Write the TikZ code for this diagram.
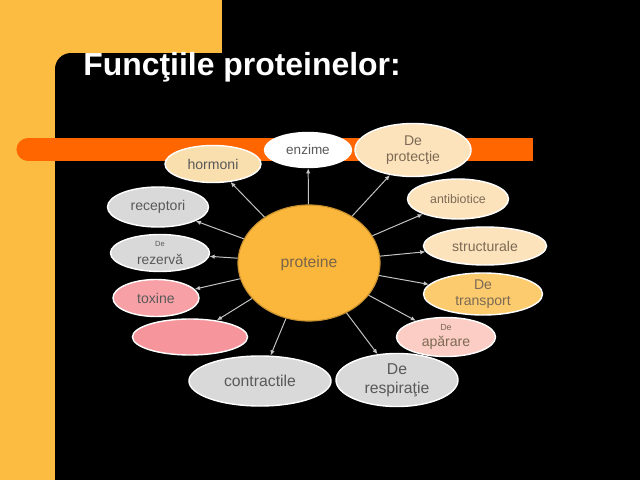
\documentclass[tikz,border=0pt]{standalone}
\usepackage{fontspec}
\setmainfont{Liberation Sans}
\usetikzlibrary{arrows.meta, shapes.geometric}
\definecolor{slideyellow}{HTML}{FCBC42}
\definecolor{barorange}{HTML}{FF6600}
\definecolor{coreorange}{HTML}{FBB73C}
\definecolor{coreedge}{HTML}{C8902E}
\definecolor{corebrown}{HTML}{7A6548}
\definecolor{peach}{HTML}{FCE3BC}
\definecolor{hormpeach}{HTML}{FADFAE}
\definecolor{apricot}{HTML}{FBCB6E}
\definecolor{blush}{HTML}{FBCDC4}
\definecolor{rose}{HTML}{F7A1A7}
\definecolor{rosedeep}{HTML}{F6959C}
\definecolor{silvergray}{HTML}{D9D9D9}
\definecolor{labelgray}{HTML}{595959}
\definecolor{labelbrown}{HTML}{7D6A55}
\definecolor{linkgray}{HTML}{C4C4C4}

\begin{document}
\begin{tikzpicture}[
    x=0.025cm, y=-0.025cm,
    func/.style={ellipse, draw=white, line width=1pt, inner sep=0pt, align=center, text=labelgray, font=\fontsize{10}{12}\selectfont},
    link/.style={draw=linkgray, line width=0.7pt, -{Latex[length=1.3mm,width=1.1mm]}},
]
\useasboundingbox (0,0) rectangle (640,480);

% Slide background
\fill[black] (0,0) rectangle (640,480);
\fill[slideyellow] (0,0) rectangle (222,480);
\fill[black, rounded corners=0.4cm] (55,53) rectangle (700,540);
\fill[black] (222,0) rectangle (640,53);

% Orange bar
\fill[barorange] (28,138) rectangle (533,161);
\fill[barorange] (28,149.5) ellipse[x radius=0.2875cm, y radius=0.2875cm];

% Title
\node[anchor=base west, text=white, font=\fontsize{22.7}{26}\selectfont\bfseries, inner sep=0pt] (title) at (83,75) {Funcţiile proteinelor:};

% Centre
\node[ellipse, fill=coreorange, draw=coreedge, line width=0.8pt, minimum width=3.55cm, minimum height=2.9cm, text=corebrown, font=\fontsize{11.2}{13}\selectfont] (prot) at (309,263) {proteine};

% Functions - top and right
\node[func, fill=white, minimum width=2.175cm, minimum height=0.875cm, font=\fontsize{9.6}{11}\selectfont] (enz) at (308,150) {enzime};
\node[func, fill=hormpeach, minimum width=2.4cm, minimum height=0.925cm] (horm) at (213,164) {hormoni};
\node[func, fill=peach, text=labelbrown, minimum width=2.9cm, minimum height=1.325cm, font=\fontsize{10}{11.7}\selectfont] (protec) at (413,150) {De\\protecţie};
\node[func, fill=peach, text=labelbrown, minimum width=2.525cm, minimum height=1.0cm, font=\fontsize{8.8}{10}\selectfont] (antib) at (458,199) {antibiotice};
\node[func, fill=peach, text=labelbrown, minimum width=3.075cm, minimum height=0.95cm] (struct) at (485,246) {structurale};
\node[func, fill=apricot, text=labelbrown, minimum width=2.975cm, minimum height=1.05cm, font=\fontsize{10}{11}\selectfont] (transp) at (483,294) {De\\transport};
\node[func, fill=blush, text=labelbrown, minimum width=2.475cm, minimum height=0.975cm, font=\fontsize{10}{11.3}\selectfont] (apar) at (446,337) {{\fontsize{6.3}{7}\selectfont De}\\apărare};

% Functions - bottom and left
\node[func, fill=silvergray, minimum width=3.05cm, minimum height=1.325cm, font=\fontsize{11.2}{13.5}\selectfont] (resp) at (397,380) {De\\respiraţie};
\node[func, fill=silvergray, minimum width=3.55cm, minimum height=1.25cm, font=\fontsize{11.2}{13}\selectfont] (contr) at (260,381) {contractile};
\node[func, fill=rosedeep, minimum width=2.875cm, minimum height=0.9cm] (blank) at (190,337) {};
\node[func, fill=rose, minimum width=2.15cm, minimum height=0.925cm] (tox) at (156,298) {toxine};
\node[func, fill=silvergray, minimum width=2.475cm, minimum height=0.925cm, font=\fontsize{9.8}{12.8}\selectfont] (rez) at (160,253) {{\fontsize{5.3}{6}\selectfont De}\\rezervă};
\node[func, fill=silvergray, minimum width=2.525cm, minimum height=1.0cm] (recep) at (158,207) {receptori};

% Links
\foreach \t in {enz, horm, protec, antib, struct, transp, apar, resp, contr, blank, tox, rez, recep}
    \draw[link] (prot) -- (\t);

\end{tikzpicture}
\end{document}
